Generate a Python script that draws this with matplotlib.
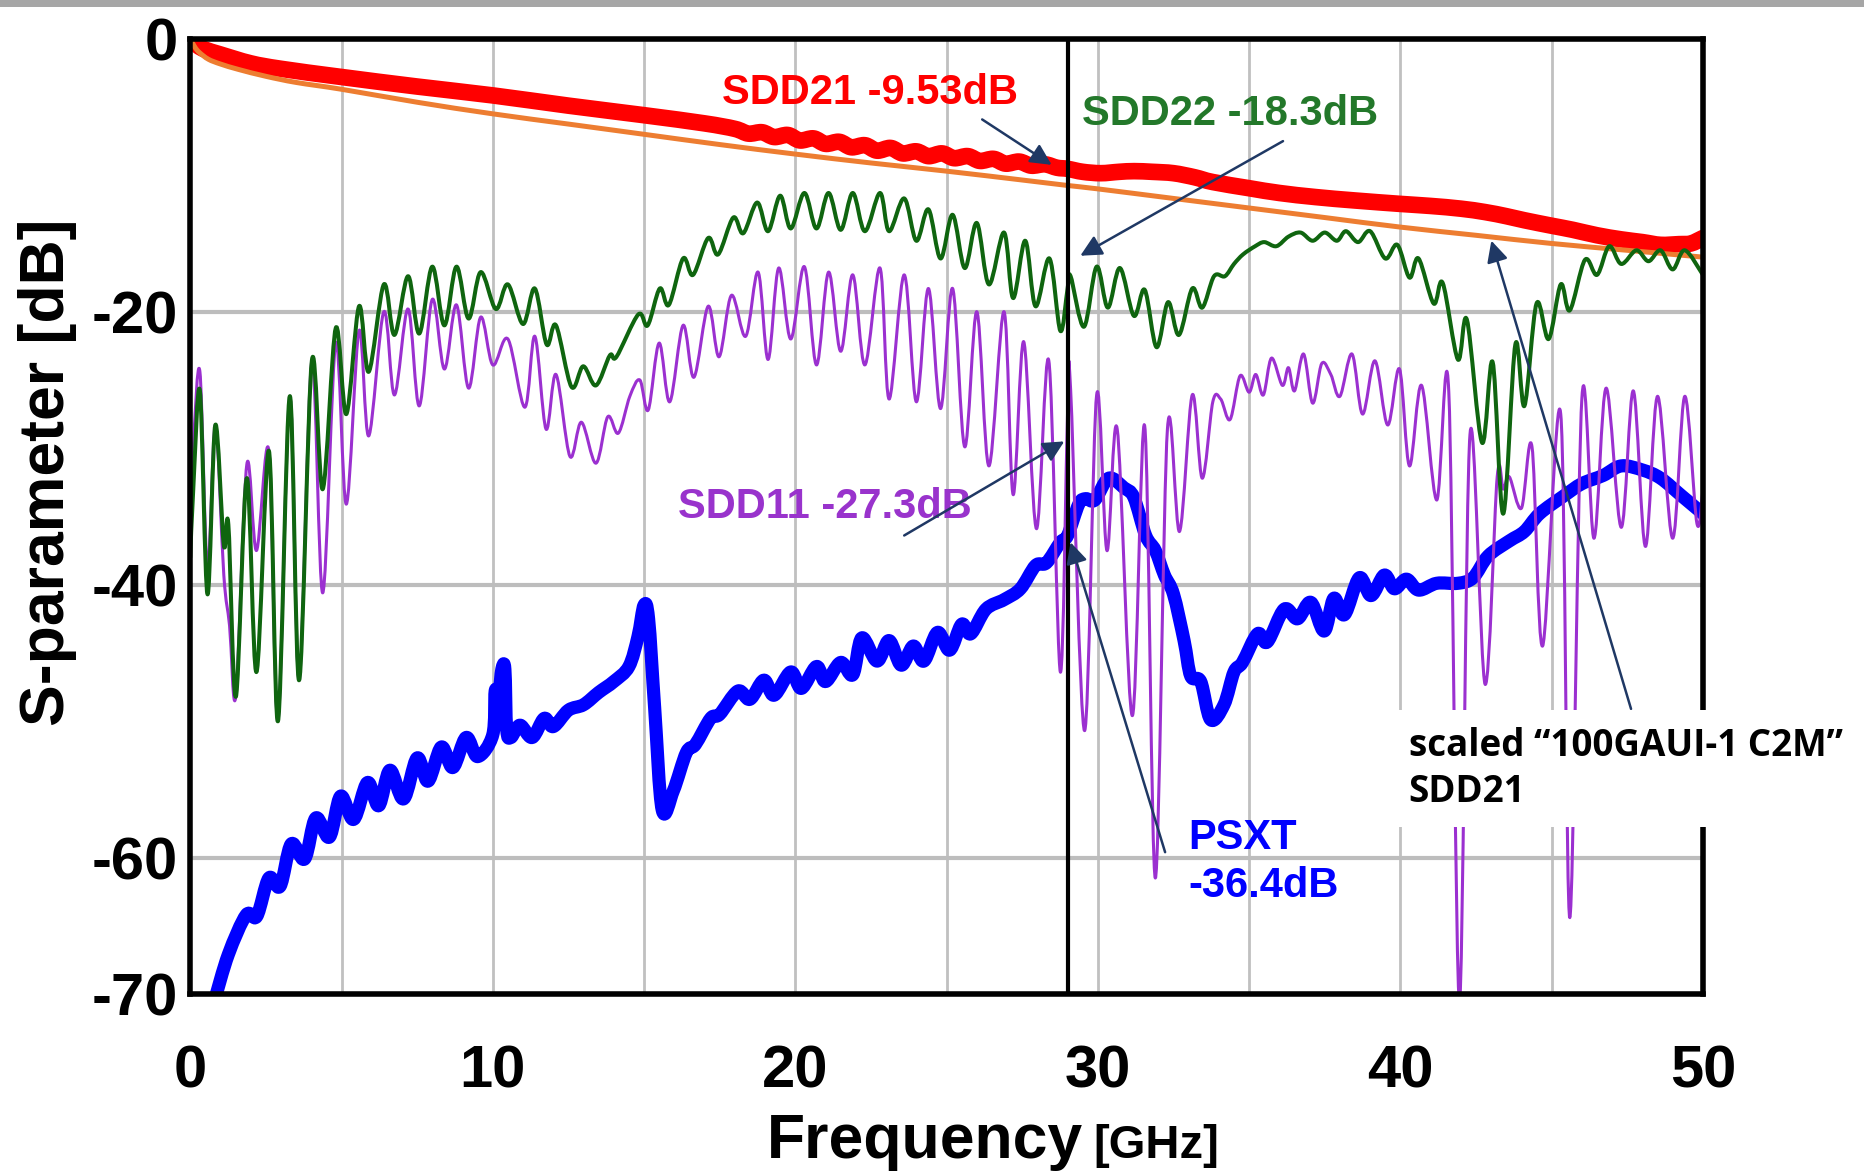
import matplotlib
matplotlib.use('Agg')
import matplotlib.pyplot as plt
from matplotlib.patches import Rectangle, PathPatch
from matplotlib.path import Path

plt.rcParams['font.family'] = ['Liberation Sans', 'DejaVu Sans']
plt.rcParams['font.weight'] = 'bold'

# measured channel, frequency in GHz, magnitude in dB
sdd21_f = [0, 0.25, 0.5, 1, 2, 3, 5, 7.5, 10, 12.5, 15, 17, 18.0, 18.45, 18.9, 19.3,
           19.75, 20.15, 20.6, 21.0, 21.45, 21.85, 22.3, 22.7, 23.15, 23.55, 24.0,
           24.4, 24.85, 25.25, 25.7, 26.1, 26.55, 26.95, 27.4, 27.8, 28.25, 28.65,
           29.0, 29.5, 30.1, 30.7, 31.2, 31.8, 32.5, 33.2, 33.8, 35.0, 36.0, 37.2,
           38.5, 40.0, 41.0, 42.0, 42.8, 43.5, 44.1, 45.0, 45.7, 46.5, 47.3, 48.0,
           48.6, 49.2, 49.6, 50.0]
sdd21_db = [0, -0.5, -0.8, -1.15, -1.8, -2.2, -2.8, -3.5, -4.15, -4.9, -5.6, -6.2,
            -6.6, -6.95, -6.85, -7.2, -7.05, -7.45, -7.3, -7.7, -7.55, -7.95, -7.8,
            -8.2, -8.0, -8.4, -8.25, -8.6, -8.4, -8.75, -8.6, -8.95, -8.8, -9.15,
            -9.0, -9.3, -9.2, -9.45, -9.53, -9.75, -9.85, -9.75, -9.7, -9.75, -9.85,
            -10.15, -10.5, -10.95, -11.3, -11.6, -11.85, -12.1, -12.25, -12.45,
            -12.7, -13.0, -13.3, -13.7, -14.0, -14.4, -14.7, -14.9, -15.1, -15.05,
            -15.0, -14.6]

# scaled 100GAUI-1 C2M reference insertion loss
c2m_f = [0, 0.15, 0.3, 0.6, 1.0, 1.6, 2.5, 3.5, 5, 7.5, 10, 12.5, 15, 17.5, 20,
         22.5, 25, 27.5, 29, 30, 32.5, 35, 37.5, 40, 42.5, 45, 47.5, 50]
c2m_db = [0, -0.6, -1.0, -1.5, -1.85, -2.25, -2.75, -3.2, -3.7, -4.65, -5.5, -6.25,
          -7.0, -7.75, -8.45, -9.1, -9.7, -10.35, -10.75, -11.0, -11.7, -12.4,
          -13.1, -13.8, -14.4, -15.0, -15.5, -16.0]

psxt_f = [0.8, 1.26, 1.85, 2.2, 2.6, 2.97, 3.34, 3.78, 4.15, 4.6, 4.97, 5.4, 5.86,
          6.23, 6.6, 7.05, 7.5, 7.86, 8.3, 8.68, 9.12, 9.5, 10.0, 10.08, 10.2, 10.3,
          10.4, 10.46, 10.6, 10.9, 11.3, 11.7, 12.0, 12.5, 13.0, 13.5, 14.0, 14.5,
          14.8, 15.0, 15.15, 15.35, 15.6, 15.97, 16.4, 16.7, 17.2, 17.5, 18.1, 18.5,
          18.96, 19.3, 19.85, 20.2, 20.7, 21.0, 21.5, 21.9, 22.2, 22.7, 23.1, 23.5,
          23.9, 24.25, 24.7, 25.1, 25.5, 25.8, 26.3, 26.9, 27.44, 27.94, 28.3,
          28.76, 29.0, 29.37, 29.6, 29.9, 30.36, 30.86, 31.19, 31.58, 31.9, 32.2,
          32.5, 32.85, 33.07, 33.4, 33.73, 34.17, 34.5, 34.78, 35.28, 35.6, 36.16,
          36.6, 37.04, 37.48, 37.8, 38.15, 38.64, 39.03, 39.47, 39.8, 40.2, 40.6,
          41.2, 41.9, 42.4, 42.9, 43.6, 44.1, 44.6, 45.4, 46.0, 46.7, 47.3, 48.0,
          48.6, 49.3, 50.0]
psxt_db = [-70.5, -67.1, -64.2, -64.3, -61.5, -62.1, -59.0, -60.1, -57.1, -58.5,
           -55.5, -57.2, -54.5, -56.2, -53.6, -55.7, -52.7, -54.4, -51.9, -53.4,
           -51.2, -52.6, -51.0, -47.8, -48.0, -46.2, -46.2, -50.6, -51.2, -50.3,
           -51.2, -49.8, -50.4, -49.2, -48.8, -47.9, -47.1, -46.0, -43.8, -41.5,
           -42.5, -49.0, -56.5, -55.1, -52.3, -51.7, -49.8, -49.5, -47.8, -48.4,
           -47.0, -48.1, -46.4, -47.6, -46.0, -47.1, -45.7, -46.6, -43.9, -45.6,
           -44.1, -45.9, -44.5, -45.6, -43.5, -44.8, -42.9, -43.6, -41.8, -41.1,
           -40.3, -38.6, -38.4, -36.9, -36.4, -34.1, -33.7, -33.8, -32.2, -32.9,
           -33.6, -36.4, -37.5, -39.3, -40.7, -44.1, -46.7, -47.1, -49.9, -48.8,
           -46.4, -45.7, -43.6, -44.2, -41.8, -42.5, -41.3, -43.4, -41.0, -42.2,
           -39.5, -40.8, -39.3, -40.3, -39.6, -40.4, -39.9, -39.9, -39.5, -37.9,
           -36.8, -36.1, -34.8, -33.5, -32.6, -32.0, -31.3, -31.6, -32.2, -33.5,
           -34.8]

sdd11_f = [0.0, 0.1, 0.32, 0.57, 0.83, 1.11, 1.3, 1.51, 1.87, 2.19, 2.6, 2.9, 3.29,
           3.6, 4.02, 4.38, 4.81, 5.16, 5.58, 5.9, 6.4, 6.75, 7.2, 7.57, 8.0, 8.4,
           8.8, 9.2, 9.6, 10.0, 10.5, 11.06, 11.39, 11.76, 12.09, 12.55, 12.93,
           13.41, 13.8, 14.15, 14.53, 14.86, 15.14, 15.5, 15.85, 16.29, 16.65,
           17.12, 17.48, 17.89, 18.36, 18.77, 19.1, 19.45, 19.85, 20.3, 20.7, 21.1,
           21.5, 21.9, 22.3, 22.8, 23.1, 23.6, 24.0, 24.4, 24.8, 25.2, 25.6, 26.0,
           26.4, 26.9, 27.2, 27.55, 27.97, 28.38, 28.76, 29.0, 29.1, 29.56, 29.96,
           30.3, 30.64, 31.14, 31.55, 31.9, 32.3, 32.7, 33.12, 33.45, 33.8, 34.06,
           34.37, 34.7, 35.0, 35.22, 35.47, 35.74, 36.1, 36.3, 36.5, 36.8, 37.1,
           37.4, 37.7, 38.0, 38.4, 38.75, 39.16, 39.58, 39.97, 40.3, 40.7, 41.2,
           41.6, 41.95, 42.3, 42.8, 43.2, 43.4, 43.6, 44.0, 44.35, 44.7, 45.3, 45.6,
           46.0, 46.4, 46.8, 47.3, 47.7, 48.1, 48.5, 49.0, 49.4, 49.8, 50.0]
sdd11_db = [-36.0, -30.0, -24.4, -38.8, -28.3, -39.3, -43.0, -48.1, -31.2, -37.5,
            -30.2, -50.0, -26.2, -47.0, -23.6, -40.6, -22.3, -34.1, -21.4, -29.1,
            -20.0, -26.1, -19.8, -26.9, -19.1, -24.2, -19.5, -25.6, -20.4, -23.9,
            -22.0, -27.0, -21.8, -28.6, -24.6, -30.6, -28.1, -31.1, -27.7, -28.9,
            -26.2, -25.0, -27.2, -22.3, -26.6, -21.0, -24.8, -19.6, -23.3, -18.8,
            -21.8, -17.1, -23.5, -16.8, -22.0, -16.7, -23.9, -17.1, -22.9, -17.3,
            -23.9, -16.8, -26.4, -17.3, -26.6, -18.3, -27.1, -18.3, -29.9, -20.0,
            -31.3, -20.0, -33.4, -22.2, -35.9, -23.6, -46.4, -27.3, -25.7, -50.7,
            -26.1, -37.5, -28.6, -49.6, -28.4, -61.5, -28.6, -36.1, -26.1, -32.2,
            -26.6, -26.4, -27.9, -24.7, -25.9, -24.6, -26.1, -23.4, -25.4, -24.1,
            -25.8, -23.1, -26.7, -23.8, -24.6, -26.2, -23.1, -27.5, -23.6, -28.3,
            -24.2, -31.3, -25.4, -33.8, -25.9, -70.5, -29.0, -47.3, -32.1, -33.0,
            -32.1, -34.4, -29.9, -44.5, -27.5, -64.4, -26.3, -36.6, -25.6, -35.8,
            -25.8, -37.2, -26.2, -36.6, -26.2, -35.5, -33.0]

sdd22_f = [0.0, 0.1, 0.32, 0.57, 0.83, 1.11, 1.26, 1.51, 1.87, 2.19, 2.6, 2.9, 3.29,
           3.6, 4.02, 4.38, 4.81, 5.16, 5.58, 5.9, 6.4, 6.75, 7.2, 7.57, 8.0, 8.4,
           8.8, 9.2, 9.6, 10.1, 10.5, 11.0, 11.39, 11.78, 12.09, 12.6, 12.99, 13.41,
           13.87, 14.09, 14.81, 15.12, 15.52, 15.82, 16.29, 16.62, 17.12, 17.45,
           17.95, 18.28, 18.74, 19.1, 19.5, 19.85, 20.3, 20.7, 21.1, 21.5, 21.9,
           22.3, 22.8, 23.1, 23.6, 24.0, 24.4, 24.8, 25.2, 25.6, 26.0, 26.4, 26.9,
           27.2, 27.6, 27.94, 28.4, 28.76, 29.0, 29.1, 29.54, 29.96, 30.33, 30.73,
           31.19, 31.55, 31.94, 32.32, 32.68, 33.12, 33.45, 33.84, 34.2, 34.5, 34.8,
           35.2, 35.5, 35.9, 36.3, 36.7, 37.1, 37.5, 37.9, 38.2, 38.6, 39.0, 39.5,
           39.9, 40.3, 40.6, 41.1, 41.4, 41.9, 42.2, 42.7, 43.05, 43.4, 43.8, 44.1,
           44.5, 44.9, 45.3, 45.6, 46.1, 46.5, 46.9, 47.3, 47.8, 48.2, 48.6, 49.0,
           49.4, 50.0]
sdd22_db = [-38.0, -33.0, -25.8, -40.7, -28.3, -37.1, -35.6, -48.2, -32.2, -46.4,
            -30.2, -50.0, -26.2, -47.0, -23.6, -33.0, -21.2, -27.5, -19.6, -24.4,
            -18.0, -21.7, -17.4, -21.6, -16.7, -21.0, -16.7, -20.5, -17.1, -19.8,
            -18.0, -20.9, -18.3, -22.4, -21.0, -25.5, -24.0, -25.4, -23.2, -23.3,
            -20.2, -21.0, -18.3, -19.5, -16.1, -17.3, -14.6, -15.8, -13.1, -14.25,
            -12.0, -14.1, -11.5, -13.9, -11.3, -13.9, -11.3, -14.0, -11.3, -14.1,
            -11.3, -14.1, -11.7, -14.8, -12.5, -16.1, -12.9, -16.8, -13.5, -18.0,
            -14.2, -19.0, -14.8, -19.6, -16.1, -21.4, -18.3, -17.4, -21.1, -16.7,
            -19.7, -16.8, -20.3, -18.4, -22.6, -19.3, -21.7, -18.3, -19.7, -17.4,
            -17.4, -16.5, -15.8, -15.2, -14.9, -15.2, -14.5, -14.2, -14.8, -14.2,
            -14.8, -14.1, -14.9, -14.1, -16.1, -15.1, -17.5, -16.1, -19.4, -17.9,
            -23.5, -20.6, -29.6, -23.7, -34.8, -22.4, -26.9, -19.4, -22.0, -18.0,
            -19.9, -16.2, -17.3, -15.2, -16.5, -15.5, -16.3, -15.5, -16.9, -15.5,
            -17.3]

marker_f = 29.0
x_ticks = [0, 10, 20, 30, 40, 50]
y_ticks = [0, -20, -40, -60, -70]


def trace(ax, xs, ys, **kw):
    # smooth stroke passing through every measured point (Catmull-Rom as Bezier)
    pts = list(zip(xs, ys))
    n = len(pts)
    verts = [pts[0]]
    codes = [Path.MOVETO]
    for i in range(n - 1):
        p0 = pts[max(i - 1, 0)]
        p1 = pts[i]
        p2 = pts[i + 1]
        p3 = pts[min(i + 2, n - 1)]
        c1 = (p1[0] + (p2[0] - p0[0]) / 6, p1[1] + (p2[1] - p0[1]) / 6)
        c2 = (p2[0] - (p3[0] - p1[0]) / 6, p2[1] - (p3[1] - p1[1]) / 6)
        verts += [c1, c2, p2]
        codes += [Path.CURVE4] * 3
    patch = PathPatch(Path(verts, codes), fill=False, capstyle='round',
                      joinstyle='round', **kw)
    ax.add_patch(patch)
    return patch


fig = plt.figure(figsize=(18.65, 11.75), dpi=100)
ax = fig.add_axes([0.1020, 0.1540, 0.8111, 0.8130])

trace(ax, sdd21_f, sdd21_db, edgecolor='#ff0000', lw=12, zorder=2)
trace(ax, c2m_f, c2m_db, edgecolor='#ed7d31', lw=3.6, zorder=3)
trace(ax, psxt_f, psxt_db, edgecolor='#0000ff', lw=9.5, zorder=4)
trace(ax, sdd11_f, sdd11_db, edgecolor='#9b30d0', lw=2.2, zorder=5)
trace(ax, sdd22_f, sdd22_db, edgecolor='#0f650f', lw=2.9, zorder=6)
ax.axvline(marker_f, color='black', lw=3, zorder=7)

ax.set_xlim(0, 50)
ax.set_ylim(-70, 0)
ax.set_xticks(x_ticks)
ax.set_xticklabels([str(t) for t in x_ticks])
ax.set_xticks([5, 15, 25, 35, 45], minor=True)
ax.set_yticks(y_ticks)
ax.set_yticklabels([str(t) for t in y_ticks])
ax.tick_params(which='both', length=0)
ax.tick_params(axis='x', pad=36, labelsize=43)
ax.tick_params(axis='y', pad=9, labelsize=43)
ax.grid(axis='x', which='both', color='#c0c0c0', lw=2)
ax.grid(axis='y', which='major', color='#bdbdbd', lw=3)
ax.set_axisbelow(True)
for sp in ax.spines.values():
    sp.set_linewidth(4)
    sp.set_zorder(8)

arrow = dict(arrowstyle='-|>', color='#1f3864', lw=1.8, mutation_scale=32)

ax.text(22.46, -4.0, 'SDD21 -9.53dB', color='#ff0000', fontsize=30,
        ha='center', va='center')
ax.annotate('', xy=(28.55, -9.35), xytext=(26.1, -5.8), arrowprops=arrow, zorder=9)

ax.text(34.36, -5.5, 'SDD22 -18.3dB', color='#23782a', fontsize=30,
        ha='center', va='center')
ax.annotate('', xy=(29.34, -16.0), xytext=(36.2, -7.4), arrowprops=arrow, zorder=9)

ax.text(20.97, -34.3, 'SDD11 -27.3dB', color='#9933cc', fontsize=30,
        ha='center', va='center', zorder=9)
ax.annotate('', xy=(28.97, -29.4), xytext=(23.52, -36.5), arrowprops=arrow, zorder=9)

ax.text(33.0, -60.3, 'PSXT\n-36.4dB', color='#0000ff', fontsize=30,
        ha='left', va='center', linespacing=1.25, zorder=9)
ax.annotate('', xy=(29.07, -36.7), xytext=(32.25, -59.8), arrowprops=arrow, zorder=9)

ax.annotate('', xy=(42.98, -14.6), xytext=(47.65, -49.3), arrowprops=arrow, zorder=9)
ax.text(40.27, -53.5, 'scaled \u201c100GAUI-1 C2M\u201d\nSDD21', color='black',
        fontsize=26.5, family=['Open Sans', 'Noto Sans', 'DejaVu Sans'],
        fontweight='bold', ha='left', va='center', linespacing=1.27,
        clip_on=False, zorder=10,
        bbox=dict(boxstyle='square,pad=0.45', facecolor='white', edgecolor='none'))

fig.text(0.0257, 0.598, 'S-parameter [dB]', rotation=90, fontsize=45,
         ha='center', va='center')
fig.text(0.4113, 0.0145, 'Frequency', fontsize=45, ha='left', va='baseline')
fig.text(0.5865, 0.0145, '[GHz]', fontsize=34, ha='left', va='baseline')

# grey strip along the top edge
fig.patches.append(Rectangle((0, 0.994), 1, 0.006, transform=fig.transFigure,
                             facecolor='#a6a6a6', edgecolor='none'))

fig.savefig('out.png', dpi=100, facecolor='white')
